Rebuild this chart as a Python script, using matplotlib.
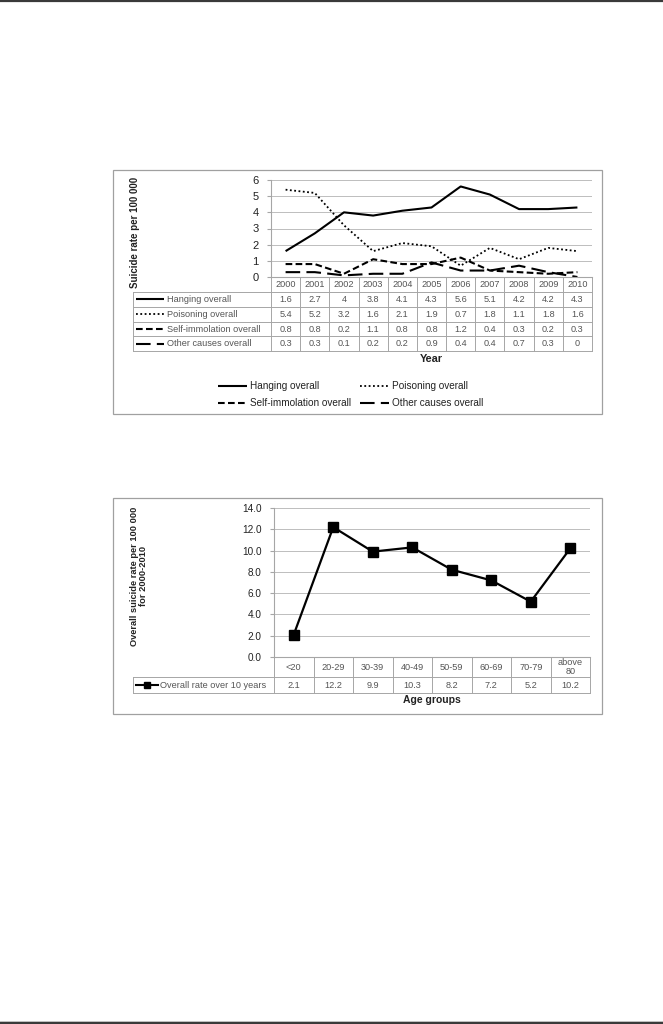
import matplotlib
matplotlib.use('Agg')
import matplotlib.pyplot as plt
from matplotlib.lines import Line2D
from matplotlib.patches import Rectangle

plt.rcParams['font.family'] = ['Liberation Sans', 'DejaVu Sans']

# ---------------- data ----------------
years = ['2000', '2001', '2002', '2003', '2004', '2005', '2006', '2007', '2008', '2009', '2010']
hanging = [1.6, 2.7, 4, 3.8, 4.1, 4.3, 5.6, 5.1, 4.2, 4.2, 4.3]
poisoning = [5.4, 5.2, 3.2, 1.6, 2.1, 1.9, 0.7, 1.8, 1.1, 1.8, 1.6]
self_immolation = [0.8, 0.8, 0.2, 1.1, 0.8, 0.8, 1.2, 0.4, 0.3, 0.2, 0.3]
other_causes = [0.3, 0.3, 0.1, 0.2, 0.2, 0.9, 0.4, 0.4, 0.7, 0.3, 0]
series_names = ['Hanging overall', 'Poisoning overall',
                'Self-immolation overall', 'Other causes overall']
y1_ticks = [0, 1, 2, 3, 4, 5, 6]

age_groups = ['<20', '20-29', '30-39', '40-49', '50-59', '60-69', '70-79', 'above\n80']
overall_rate = [2.1, 12.2, 9.9, 10.3, 8.2, 7.2, 5.2, 10.2]
rate_label = 'Overall rate over 10 years'
y2_ticks = [0, 2, 4, 6, 8, 10, 12, 14]

# ---------------- layout ----------------
W, H = 663, 1024
fig = plt.figure(figsize=(W / 100, H / 100), dpi=100)
ov = fig.add_axes([0, 0, 1, 1])
ov.set_xlim(0, W)
ov.set_ylim(H, 0)
ov.axis('off')

GRID = '#bdbdbd'
BORDER = '#a6a6a6'
TXT = '#555555'
DARK = '#222222'
TFS = 6.6


def px_axes(l, t, r, b):
    a = fig.add_axes([l / W, 1 - b / H, (r - l) / W, (b - t) / H])
    a.patch.set_alpha(0)
    return a


def hline(x0, x1, y, c=BORDER, lw=0.7):
    ov.add_line(Line2D([x0, x1], [y, y], color=c, lw=lw))


def vline(x, y0, y1, c=BORDER, lw=0.7):
    ov.add_line(Line2D([x, x], [y0, y1], color=c, lw=lw))


# page rules
hline(0, W, 0.8, c='#3a3a3a', lw=1.6)
hline(0, W, 1020.5, c='#cfcfcf', lw=0.7)
hline(0, W, 1023, c='#3a3a3a', lw=1.6)

# ================= chart 1 =================
ov.add_patch(Rectangle((113, 170), 489, 244, fill=False, ec='#a0a0a0', lw=0.9))

P1L, P1R, P1T, P1B = 271, 592, 180, 277
ax1 = px_axes(P1L, P1T, P1R, P1B)
series = [hanging, poisoning, self_immolation, other_causes]
styles = ['-', (0, (1, 1.4)), (0, (3.2, 1.6)), (0, (7, 3))]
lws = [1.5, 1.3, 1.5, 1.5]
x = list(range(len(years)))
for vals, ls, lw in zip(series, styles, lws):
    ax1.plot(x, vals, color='black', ls=ls, lw=lw, solid_capstyle='butt',
             dash_capstyle='butt')
ax1.set_xlim(-0.5, len(years) - 0.5)
ax1.set_ylim(0, 6)
ax1.set_yticks(y1_ticks)
ax1.set_yticklabels([str(v) for v in y1_ticks], fontsize=8, color=DARK)
ax1.set_xticks([])
ax1.grid(axis='y', color=GRID, lw=0.7)
ax1.set_axisbelow(True)
for s in ['top', 'right']:
    ax1.spines[s].set_visible(False)
ax1.spines['left'].set_color(BORDER)
ax1.spines['bottom'].set_color(BORDER)
ax1.tick_params(axis='y', length=3, color=BORDER, pad=6)

# data table 1
ncol = len(years)
cw = (P1R - P1L) / ncol
rows1 = [277, 292, 306.8, 321.6, 336.4, 351]
TL = 133
for i in range(ncol + 1):
    vline(P1L + i * cw, rows1[0], rows1[-1])
vline(TL, rows1[1], rows1[-1])
for j, yy in enumerate(rows1):
    hline(TL if j >= 1 else P1L, P1R, yy)
for i, yr in enumerate(years):
    ov.text(P1L + (i + 0.5) * cw, (rows1[0] + rows1[1]) / 2, yr, fontsize=TFS,
            color=TXT, ha='center', va='center')
for r, (name, vals, ls, lw) in enumerate(zip(series_names, series, styles, lws)):
    yc = (rows1[r + 1] + rows1[r + 2]) / 2
    ov.add_line(Line2D([136, 164], [yc, yc], color='black', ls=ls, lw=lw,
                       solid_capstyle='butt', dash_capstyle='butt'))
    ov.text(167, yc, name, fontsize=TFS, color=TXT, ha='left', va='center')
    for i, v in enumerate(vals):
        ov.text(P1L + (i + 0.5) * cw, yc, f'{v:g}', fontsize=TFS, color=TXT,
                ha='center', va='center')

ov.text(431, 359, 'Year', fontsize=7.8, fontweight='bold', color=DARK,
        ha='center', va='center')
ov.text(135, 232, 'Suicide rate per 100 000', fontsize=7, fontweight='bold',
        color=DARK, rotation=90, ha='center', va='center')

# legend 1
leg_pos = [(218, 386), (360, 386), (218, 403), (360, 403)]
for (lx, ly), name, ls, lw in zip(leg_pos, series_names, styles, lws):
    ov.add_line(Line2D([lx, lx + 29], [ly, ly], color='black', ls=ls, lw=lw,
                       solid_capstyle='butt', dash_capstyle='butt'))
    ov.text(lx + 32, ly, name, fontsize=7.2, color=DARK, ha='left', va='center')

# ================= chart 2 =================
ov.add_patch(Rectangle((113, 498), 489, 216, fill=False, ec='#a0a0a0', lw=0.9))

P2L, P2R, P2T, P2B = 274, 590, 508, 657
ax2 = px_axes(P2L, P2T, P2R, P2B)
x2 = list(range(len(age_groups)))
ax2.plot(x2, overall_rate, color='black', lw=1.6, marker='s', ms=6.5,
         markerfacecolor='black')
ax2.set_xlim(-0.5, len(age_groups) - 0.5)
ax2.set_ylim(0, 14)
ax2.set_yticks(y2_ticks)
ax2.set_yticklabels([f'{v:.1f}' for v in y2_ticks], fontsize=7.2, color=DARK)
ax2.set_xticks([])
ax2.grid(axis='y', color=GRID, lw=0.7)
ax2.set_axisbelow(True)
for s in ['top', 'right']:
    ax2.spines[s].set_visible(False)
ax2.spines['left'].set_color(BORDER)
ax2.spines['bottom'].set_color(BORDER)
ax2.tick_params(axis='y', length=3, color=BORDER, pad=6)

ncol2 = len(age_groups)
cw2 = (P2R - P2L) / ncol2
rows2 = [657, 677, 693]
for i in range(ncol2 + 1):
    vline(P2L + i * cw2, rows2[0], rows2[-1])
vline(TL, rows2[1], rows2[-1])
hline(P2L, P2R, rows2[0])
hline(TL, P2R, rows2[1])
hline(TL, P2R, rows2[2])
for i, g in enumerate(age_groups):
    ov.text(P2L + (i + 0.5) * cw2, (rows2[0] + rows2[1]) / 2, g, fontsize=TFS,
            color=TXT, ha='center', va='center', linespacing=1.1)
yc2 = (rows2[1] + rows2[2]) / 2
ov.add_line(Line2D([136, 158], [yc2, yc2], color='black', lw=1.5))
ov.add_line(Line2D([147], [yc2], color='black', marker='s', ms=5))
ov.text(160, yc2, rate_label, fontsize=TFS, color=TXT, ha='left', va='center')
for i, v in enumerate(overall_rate):
    ov.text(P2L + (i + 0.5) * cw2, yc2, f'{v:.1f}', fontsize=TFS, color=TXT,
            ha='center', va='center')

ov.text(432, 700, 'Age groups', fontsize=7.5, fontweight='bold', color=DARK,
        ha='center', va='center')
ov.text(139, 576, 'Overall suicide rate per 100 000\nfor 2000-2010', fontsize=6.7,
        fontweight='bold', color=DARK, rotation=90, ha='center', va='center',
        multialignment='center', linespacing=1.1)

fig.savefig('out.png', dpi=100)
